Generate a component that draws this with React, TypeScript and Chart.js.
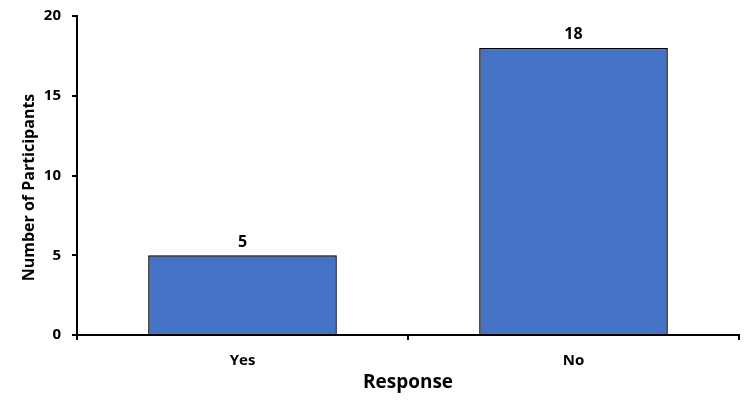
import React, { useEffect, useRef } from "react";
import { Chart, registerables } from "chart.js";

Chart.register(...registerables);

const categories = ["Yes", "No"];
const participants = [5, 18];
const yTicks = [0, 5, 10, 15, 20];
const xTitle = "Response";
const yTitle = "Number of Participants";

const FONT = "'Open Sans', 'Liberation Sans', sans-serif";

const dataLabels = {
  id: "dataLabels",
  afterDatasetsDraw(chart: any) {
    const ctx = chart.ctx;
    const meta = chart.getDatasetMeta(0);
    ctx.save();
    ctx.fillStyle = "#000";
    ctx.font = `bold 16px ${FONT}`;
    ctx.textAlign = "center";
    ctx.textBaseline = "bottom";
    meta.data.forEach((bar: any, i: number) => {
      ctx.fillText(String(chart.data.datasets[0].data[i]), bar.x, bar.y - 5);
    });
    ctx.restore();
  },
};

const yTitlePlugin = {
  id: "yTitlePlugin",
  afterDraw(chart: any) {
    const ctx = chart.ctx;
    const area = chart.chartArea;
    ctx.save();
    ctx.fillStyle = "#000";
    ctx.font = `bold 16px ${FONT}`;
    ctx.textAlign = "center";
    ctx.textBaseline = "middle";
    ctx.translate(29, (area.top + area.bottom) / 2 + 12);
    ctx.rotate(-Math.PI / 2);
    ctx.fillText(yTitle, 0, 0);
    ctx.restore();
  },
};

export default function App() {
  const ref = useRef<HTMLCanvasElement | null>(null);
  useEffect(() => {
    if (!ref.current) return;
    const chart = new Chart(ref.current, {
      type: "bar",
      data: {
        labels: categories,
        datasets: [
          {
            data: participants,
            backgroundColor: "#4472C4",
            borderColor: "#000",
            borderWidth: 1.5,
            categoryPercentage: 0.57,
            barPercentage: 1,
          },
        ],
      },
      options: {
        animation: false,
        responsive: false,
        maintainAspectRatio: false,
        layout: { padding: { top: 16, right: 11, left: 0, bottom: 14 } },
        plugins: { legend: { display: false }, tooltip: { enabled: false } },
        scales: {
          x: {
            offset: true,
            grid: {
              offset: true,
              drawOnChartArea: false,
              drawTicks: true,
              tickLength: 5,
              color: "#000",
              lineWidth: 2,
            },
            border: { display: true, color: "#000", width: 2 },
            ticks: {
              color: "#000",
              font: { family: FONT, weight: "bold", size: 15 },
              padding: 12,
            },
            title: {
              display: true,
              text: xTitle,
              color: "#000",
              font: { family: FONT, weight: "bold", size: 19 },
            },
            afterFit: (s: any) => {
              s.height = 63;
              s.paddingLeft = 0;
              s.paddingRight = 0;
            },
          },
          y: {
            min: 0,
            max: 20,
            afterBuildTicks: (s: any) => {
              s.ticks = yTicks.map((v) => ({ value: v }));
            },
            grid: {
              drawOnChartArea: false,
              drawTicks: true,
              tickLength: 5,
              color: "#000",
              lineWidth: 2,
            },
            border: { display: true, color: "#000", width: 2 },
            ticks: {
              color: "#000",
              font: { family: FONT, weight: "bold", size: 15 },
              padding: 11,
            },
            title: { display: false },
            afterFit: (s: any) => {
              s.width = 77;
              s.paddingTop = 0;
              s.paddingBottom = 0;
            },
          },
        },
      },
      plugins: [dataLabels, yTitlePlugin],
    });
    return () => chart.destroy();
  }, []);
  return (
    <div style={{ position: "fixed", left: 0, top: 0, width: 750, height: 412, background: "#fff" }}>
      <canvas ref={ref} width={750} height={412} style={{ width: 750, height: 412 }} />
    </div>
  );
}
